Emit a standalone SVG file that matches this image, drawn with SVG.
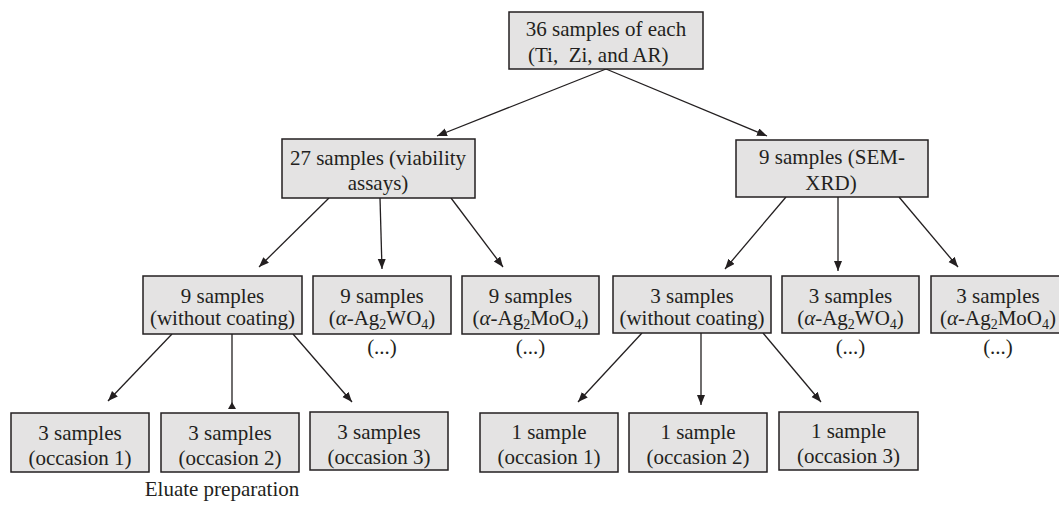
<svg xmlns="http://www.w3.org/2000/svg" width="1059" height="519" viewBox="0 0 1059 519">
<style>
.box{fill:#e4e3e3;stroke:#231f20;stroke-width:1.5}
.t{font-family:"Liberation Serif","Times New Roman",serif;font-size:21px;fill:#231f20;text-anchor:middle}
.c{stroke:#231f20;stroke-width:1.3;fill:none}
.sub{font-size:14px}
</style>
<defs>
<marker id="ah" markerUnits="userSpaceOnUse" markerWidth="12" markerHeight="10" refX="10" refY="4" orient="auto">
<path d="M0,0 L10,4 L0,8 Z" fill="#231f20"/>
</marker>
</defs>
<rect width="1059" height="519" fill="#ffffff"/>
<g id="connectors">
<line class="c" x1="606" y1="69" x2="437" y2="136" marker-end="url(#ah)"/>
<line class="c" x1="606" y1="69" x2="767" y2="136" marker-end="url(#ah)"/>
<line class="c" x1="329" y1="198" x2="259" y2="267" marker-end="url(#ah)"/>
<line class="c" x1="380" y1="198" x2="382" y2="269" marker-end="url(#ah)"/>
<line class="c" x1="451" y1="198" x2="503" y2="267" marker-end="url(#ah)"/>
<line class="c" x1="786" y1="197" x2="725" y2="269" marker-end="url(#ah)"/>
<line class="c" x1="838" y1="197" x2="838" y2="271" marker-end="url(#ah)"/>
<line class="c" x1="899" y1="197" x2="958" y2="267" marker-end="url(#ah)"/>
<line class="c" x1="172" y1="334" x2="108" y2="401" marker-end="url(#ah)"/>
<line class="c" x1="232" y1="334" x2="232" y2="404"/>
<path d="M228,409 L236,409 L232,402 Z" fill="#231f20"/>
<line class="c" x1="293" y1="334" x2="352" y2="402" marker-end="url(#ah)"/>
<line class="c" x1="642" y1="333" x2="578" y2="402" marker-end="url(#ah)"/>
<line class="c" x1="701" y1="333" x2="701" y2="405" marker-end="url(#ah)"/>
<line class="c" x1="763" y1="333" x2="821" y2="402" marker-end="url(#ah)"/>
</g>
<g id="n-top">
<rect class="box" x="509" y="12" width="194" height="57"/>
<text class="t" x="606" y="36">36 samples of each</text>
<text class="t" x="528" y="62" style="text-anchor:start" xml:space="preserve">(Ti,  Zi, and AR)</text>
</g>
<g id="n-27">
<rect class="box" x="282" y="139" width="193" height="59"/>
<text class="t" x="378" y="165">27 samples (viability</text>
<text class="t" x="378" y="190">assays)</text>
</g>
<g id="n-9sem">
<rect class="box" x="736" y="140" width="192" height="57"/>
<text class="t" x="832" y="164">9 samples (SEM-</text>
<text class="t" x="831" y="190">XRD)</text>
</g>
<g id="n-9wc">
<rect class="box" x="143" y="276" width="159" height="58"/>
<text class="t" x="222.5" y="303">9 samples</text>
<text class="t" x="222.5" y="325">(without coating)</text>
</g>
<g id="n-9w">
<rect class="box" x="313" y="276" width="138" height="58"/>
<text class="t" x="382" y="303">9 samples</text>
<text class="t" x="382" y="325">(<tspan font-style="italic">α</tspan>-Ag<tspan class="sub" dy="4">2</tspan><tspan dy="-4">WO</tspan><tspan class="sub" dy="4">4</tspan><tspan dy="-4">)</tspan></text>
<text class="t" x="382" y="354">(...)</text>
</g>
<g id="n-9m">
<rect class="box" x="462" y="276" width="137" height="58"/>
<text class="t" x="530.5" y="303">9 samples</text>
<text class="t" x="530.5" y="325">(<tspan font-style="italic">α</tspan>-Ag<tspan class="sub" dy="4">2</tspan><tspan dy="-4">MoO</tspan><tspan class="sub" dy="4">4</tspan><tspan dy="-4">)</tspan></text>
<text class="t" x="530.5" y="354">(...)</text>
</g>
<g id="n-3wc">
<rect class="box" x="613" y="276" width="158" height="57"/>
<text class="t" x="692" y="303">3 samples</text>
<text class="t" x="692" y="325">(without coating)</text>
</g>
<g id="n-3w">
<rect class="box" x="782" y="276" width="137" height="57"/>
<text class="t" x="850.5" y="303">3 samples</text>
<text class="t" x="850.5" y="325">(<tspan font-style="italic">α</tspan>-Ag<tspan class="sub" dy="4">2</tspan><tspan dy="-4">WO</tspan><tspan class="sub" dy="4">4</tspan><tspan dy="-4">)</tspan></text>
<text class="t" x="850.5" y="354">(...)</text>
</g>
<g id="n-3m">
<rect class="box" x="931" y="276" width="137" height="57"/>
<text class="t" x="998" y="303">3 samples</text>
<text class="t" x="998" y="325">(<tspan font-style="italic">α</tspan>-Ag<tspan class="sub" dy="4">2</tspan><tspan dy="-4">MoO</tspan><tspan class="sub" dy="4">4</tspan><tspan dy="-4">)</tspan></text>
<text class="t" x="998" y="354">(...)</text>
</g>
<g id="n-o1">
<rect class="box" x="11" y="413" width="138" height="59"/>
<text class="t" x="80" y="440">3 samples</text>
<text class="t" x="80" y="465">(occasion 1)</text>
</g>
<g id="n-o2">
<rect class="box" x="161" y="413" width="138" height="59"/>
<text class="t" x="230" y="440">3 samples</text>
<text class="t" x="230" y="465">(occasion 2)</text>
</g>
<g id="n-o3">
<rect class="box" x="310" y="412" width="138" height="58"/>
<text class="t" x="379" y="439">3 samples</text>
<text class="t" x="379" y="464">(occasion 3)</text>
</g>
<g id="n-s1">
<rect class="box" x="480" y="413" width="138" height="59"/>
<text class="t" x="549" y="439">1 sample</text>
<text class="t" x="549" y="464">(occasion 1)</text>
</g>
<g id="n-s2">
<rect class="box" x="629" y="413" width="138" height="59"/>
<text class="t" x="698" y="439">1 sample</text>
<text class="t" x="698" y="464">(occasion 2)</text>
</g>
<g id="n-s3">
<rect class="box" x="779" y="412" width="139" height="58"/>
<text class="t" x="848.5" y="438">1 sample</text>
<text class="t" x="848.5" y="463">(occasion 3)</text>
</g>
<g id="label-eluate">
<text class="t" x="222" y="496">Eluate preparation</text>
</g>
</svg>
